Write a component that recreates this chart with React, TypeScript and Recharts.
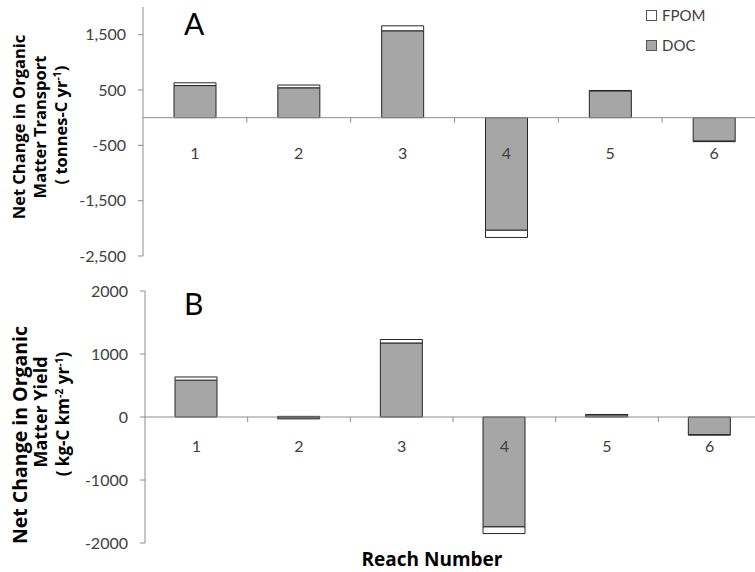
import React from 'react';
import { BarChart, Bar, XAxis, YAxis, ReferenceLine, Legend } from 'recharts';

const reaches = ['1', '2', '3', '4', '5', '6'];

// Panel A: net change in transport (tonnes-C / yr)
const transportDOC = [580, 540, 1570, -2035, 485, -425];
const transportFPOM = [50, 50, 90, -130, 6, -8];
const transportTicks = [-2500, -1500, -500, 500, 1500];

// Panel B: net change in yield (kg-C / km2 / yr)
const yieldDOC = [585, -30, 1175, -1745, 35, -280];
const yieldFPOM = [50, 10, 55, -105, 5, -8];
const yieldTicks = [-2000, -1000, 0, 1000, 2000];

const FONT = 'Lato, "Open Sans", sans-serif';
const TITLE_FONT = '"Open Sans", Lato, sans-serif';
const AXIS = '#8c8c8c';
const TEXT = '#404040';
const DOC_FILL = '#a6a6a6';
const FPOM_FILL = '#ffffff';
const EDGE = '#262626';
const CHART_W = 770;
const X_AXIS_H = 20;

const ReachTick = (props: any) => {
  const { x, payload, zeroY, band, gap } = props;
  return (
    <g>
      <line x1={x + band / 2} x2={x + band / 2} y1={zeroY} y2={zeroY + 5} stroke={AXIS} />
      <text x={x} y={zeroY + gap} textAnchor="middle" fill={TEXT} fontSize={16} fontFamily={FONT}>
        {payload.value}
      </text>
    </g>
  );
};

const renderLegend = () => {
  const items = [
    { name: 'FPOM', fill: FPOM_FILL },
    { name: 'DOC', fill: DOC_FILL },
  ];
  return (
    <div style={{ fontFamily: FONT, fontSize: 15, color: TEXT }}>
      {items.map((it) => (
        <div key={it.name} style={{ display: 'flex', alignItems: 'center', height: 30 }}>
          <span
            style={{
              display: 'inline-block',
              width: 9,
              height: 9,
              border: '1px solid #555',
              background: it.fill,
              marginRight: 5,
            }}
          />
          {it.name}
        </div>
      ))}
    </div>
  );
};

type PanelProps = {
  doc: number[];
  fpom: number[];
  ticks: number[];
  domain: [number, number];
  top: number;
  height: number;
  plotLeft: number;
  plotRight: number;
  plotTop: number;
  plotBottom: number;
  labelGap: number;
  comma: boolean;
  showLegend?: boolean;
};

const Panel = (p: PanelProps) => {
  const data = reaches.map((r, i) => ({ reach: r, DOC: p.doc[i], FPOM: p.fpom[i] }));
  const plotH = p.plotBottom - p.plotTop;
  const zeroY = p.plotTop + (plotH * p.domain[1]) / (p.domain[1] - p.domain[0]);
  const band = (p.plotRight - p.plotLeft) / reaches.length;

  return (
    <div style={{ position: 'absolute', left: 0, top: p.top, width: CHART_W, height: p.height }}>
      <BarChart
        width={CHART_W}
        height={p.height}
        data={data}
        stackOffset="sign"
        barSize={42}
        margin={{
          top: p.plotTop,
          right: CHART_W - p.plotRight,
          bottom: p.height - p.plotBottom - X_AXIS_H,
          left: 0,
        }}
      >
        <XAxis
          dataKey="reach"
          height={X_AXIS_H}
          interval={0}
          axisLine={false}
          tickLine={false}
          tick={(t: any) => <ReachTick {...t} zeroY={zeroY} band={band} gap={p.labelGap} />}
        />
        <YAxis
          type="number"
          domain={p.domain}
          ticks={p.ticks}
          interval={0}
          allowDataOverflow
          width={p.plotLeft}
          tickSize={5}
          tickMargin={12}
          axisLine={{ stroke: AXIS }}
          tickLine={{ stroke: AXIS }}
          tick={{ fill: TEXT, fontSize: 16, fontFamily: FONT }}
          tickFormatter={(v: number) => (p.comma ? v.toLocaleString('en-US') : String(v))}
        />
        <ReferenceLine y={0} stroke={AXIS} strokeWidth={1} />
        <Bar dataKey="DOC" stackId="a" fill={DOC_FILL} stroke={EDGE} isAnimationActive={false} />
        <Bar dataKey="FPOM" stackId="a" fill={FPOM_FILL} stroke={EDGE} isAnimationActive={false} />
        {p.showLegend && (
          <Legend
            layout="vertical"
            align="center"
            verticalAlign="middle"
            content={renderLegend}
            wrapperStyle={{ left: 646, top: 0, width: 100 }}
          />
        )}
      </BarChart>
    </div>
  );
};

const TitleLine = ({ x, y, size, children }: { x: number; y: number; size: number; children: React.ReactNode }) => (
  <text
    transform={`translate(${x},${y}) rotate(-90)`}
    textAnchor="middle"
    fontFamily={TITLE_FONT}
    fontWeight="bold"
    fontSize={size}
    fill="#000"
  >
    {children}
  </text>
);

export default function App() {
  return (
    <div style={{ position: 'absolute', left: 0, top: 0, width: 755, height: 572, overflow: 'hidden', background: '#fff' }}>
      <Panel
        doc={transportDOC}
        fpom={transportFPOM}
        ticks={transportTicks}
        domain={[-2500, 2000]}
        top={0}
        height={270}
        plotLeft={143}
        plotRight={766}
        plotTop={7}
        plotBottom={256}
        labelGap={41}
        comma
        showLegend
      />
      <Panel
        doc={yieldDOC}
        fpom={yieldFPOM}
        ticks={yieldTicks}
        domain={[-2000, 2000]}
        top={270}
        height={302}
        plotLeft={145}
        plotRight={761}
        plotTop={21}
        plotBottom={273}
        labelGap={35}
        comma={false}
      />
      <svg width={755} height={572} style={{ position: 'absolute', left: 0, top: 0, pointerEvents: 'none' }}>
        <text x={184} y={35} fontFamily={FONT} fontSize={30} fill="#000">A</text>
        <text x={184} y={315} fontFamily={FONT} fontSize={30} fill="#000">B</text>

        <TitleLine x={25} y={127} size={16.5}>Net Change in Organic</TitleLine>
        <TitleLine x={46} y={127} size={16.5}>Matter Transport</TitleLine>
        <TitleLine x={67} y={125} size={16.5}>
          ( tonnes-C yr
          <tspan dy={-6} fontSize={10.5}>-1</tspan>
          <tspan dy={6}>)</tspan>
        </TitleLine>

        <TitleLine x={27} y={435} size={19.5}>Net Change in Organic</TitleLine>
        <TitleLine x={47} y={412} size={18}>Matter Yield</TitleLine>
        <TitleLine x={69} y={414} size={17}>
          ( kg-C km
          <tspan dy={-6} fontSize={10.5}>-2</tspan>
          <tspan dy={6}> yr</tspan>
          <tspan dy={-6} fontSize={10.5}>-1</tspan>
          <tspan dy={6}>)</tspan>
        </TitleLine>

        <text x={432} y={566} textAnchor="middle" fontFamily={TITLE_FONT} fontWeight="bold" fontSize={19} fill="#000">
          Reach Number
        </text>
      </svg>
    </div>
  );
}
